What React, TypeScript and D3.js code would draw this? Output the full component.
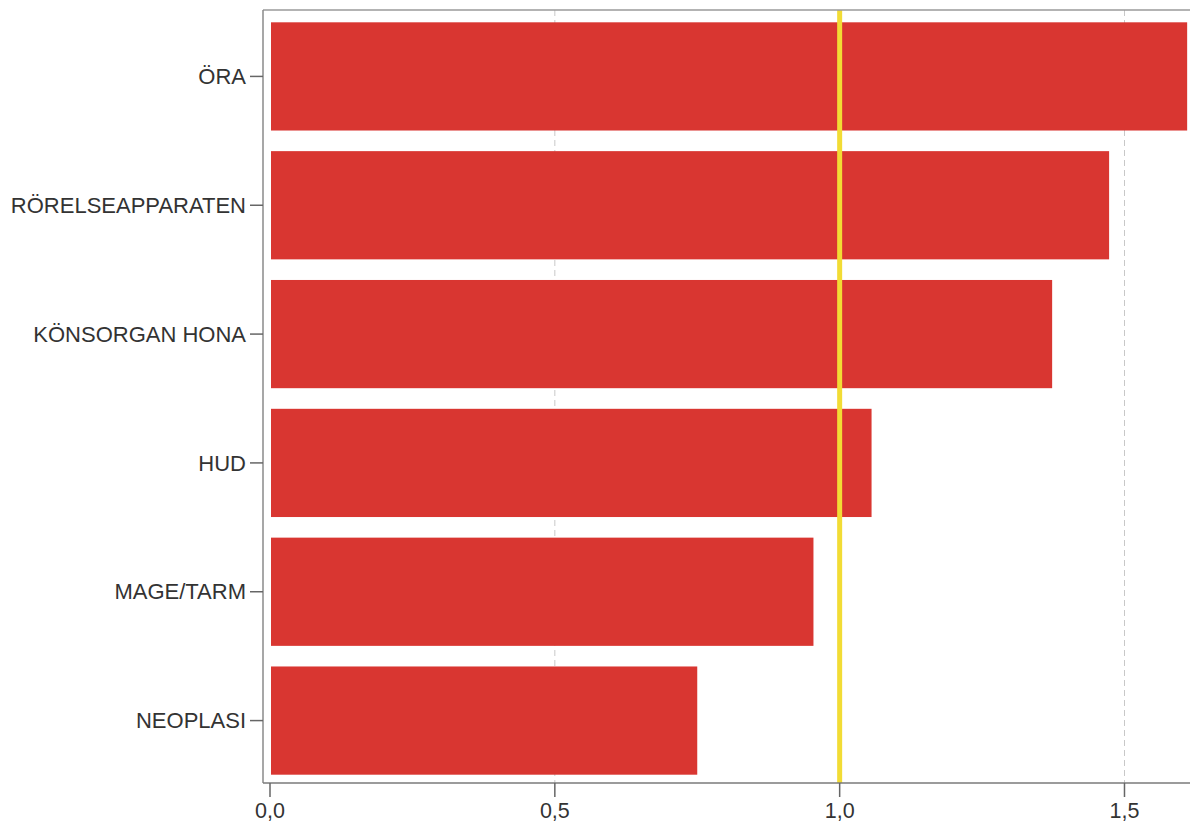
import React from "react";
import * as d3 from "d3";

const categories = ["ÖRA", "RÖRELSEAPPARATEN", "KÖNSORGAN HONA", "HUD", "MAGE/TARM", "NEOPLASI"];
const values = [1.61, 1.473, 1.373, 1.056, 0.954, 0.75];
const xTicks = [0, 0.5, 1.0, 1.5];
const gridTicks = [0.5, 1.0, 1.5];
const referenceValue = 1.0;

const W = 1190;
const H = 825;
const frameLeft = 263;
const top = 10;
const bottom = 783;

export default function App() {
  const x = d3.scaleLinear().domain([0, 1.615]).range([270, W]);
  const y = d3.scaleBand<string>().domain(categories).range([top + 2, bottom + 2]).paddingInner(0.16).paddingOuter(0.08);
  const fmt = (v: number) => d3.format(".1f")(v).replace(".", ",");
  const font = "'Liberation Sans', Arial, sans-serif";
  return (
    <svg width={W} height={H} style={{ position: "absolute", left: 0, top: 0, background: "#fff" }} fontFamily={font}>
      {gridTicks.map((t) => (
        <line key={"g" + t} x1={x(t)} x2={x(t)} y1={top} y2={bottom} stroke="#c8c8c8" strokeWidth={1} strokeDasharray="6,4" />
      ))}
      {categories.map((c, i) => (
        <rect key={c} x={x(0) + 1} y={y(c)} width={Math.max(0, x(values[i]) - x(0) - 1)} height={y.bandwidth()} fill="#d93631" />
      ))}
      <line x1={x(referenceValue)} x2={x(referenceValue)} y1={top} y2={bottom} stroke="#f2dc35" strokeWidth={5} />
      <line x1={frameLeft} x2={W} y1={top} y2={top} stroke="#9a9a9a" strokeWidth={1.5} />
      <line x1={frameLeft} x2={frameLeft} y1={top} y2={bottom} stroke="#8a8a8a" strokeWidth={1.5} />
      <line x1={frameLeft} x2={W} y1={bottom} y2={bottom} stroke="#7a7a7a" strokeWidth={1.5} />
      {xTicks.map((t) => (
        <g key={"t" + t}>
          <line x1={x(t)} x2={x(t)} y1={bottom} y2={bottom + 14} stroke="#666" strokeWidth={1.5} />
          <text x={x(t)} y={bottom + 35} textAnchor="middle" fontSize={21.5} fill="#333">{fmt(t)}</text>
        </g>
      ))}
      {categories.map((c) => {
        const cy = (y(c) as number) + y.bandwidth() / 2;
        return (
          <g key={"l" + c}>
            <line x1={frameLeft - 13} x2={frameLeft} y1={cy} y2={cy} stroke="#666" strokeWidth={1.5} />
            <text x={frameLeft - 17} y={cy} dy="0.35em" textAnchor="end" fontSize={22} fill="#333">{c}</text>
          </g>
        );
      })}
    </svg>
  );
}
